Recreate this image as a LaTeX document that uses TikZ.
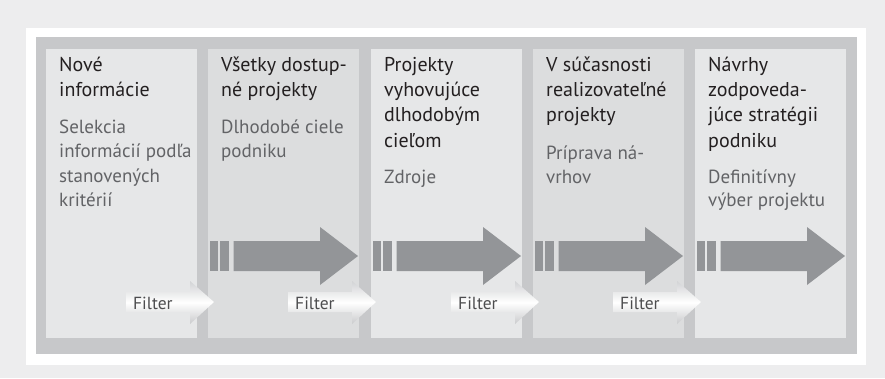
\documentclass[tikz,border=0pt]{standalone}
\usepackage{fontspec}
\setmainfont{PT Sans}
\definecolor{bgc}{HTML}{EDEDEE}
\definecolor{framec}{HTML}{C7C8CA}
\definecolor{pl}{HTML}{E6E7E8}
\definecolor{pd}{HTML}{DCDDDE}
\definecolor{arrowc}{HTML}{939598}
\definecolor{headc}{HTML}{231F20}
\definecolor{bodyc}{HTML}{626366}
\definecolor{filtc}{HTML}{4D4D4F}
\definecolor{fedge}{HTML}{D2D3D5}
\tikzset{
  panel/.style={draw=none, inner sep=0pt, minimum width=151pt, minimum height=289pt, anchor=north west},
  head/.style={anchor=base west, inner sep=0pt, text=headc, font=\fontsize{20}{25}\selectfont},
  body/.style={anchor=base west, inner sep=0pt, text=bodyc, font=\fontsize{19}{25}\selectfont},
  filt/.style={anchor=base west, inner sep=0pt, text=filtc, font=\fontsize{17.5}{20}\selectfont},
  bigarrow/.style={fill=arrowc, draw=none},
  filtarrow/.style={top color=fedge, bottom color=fedge!90!gray, middle color=white, draw=none}
}
\begin{document}
\begin{tikzpicture}[x=1pt,y=-1pt]
\useasboundingbox (0,0) rectangle (885,378);
\fill[bgc] (0,0) rectangle (885,378);
\fill[white] (26,28) rectangle (866,365);
\fill[framec] (36,37) rectangle (857,354);
% panels
\foreach \L/\c [count=\k] in {46/pl,208/pd,371/pl,533/pd,695/pl}
  \node[panel, fill=\c] (p\k) at (\L,49) {};
% big arrows
\foreach \L [count=\k from 2] in {208,371,533,695}{
  \fill[bigarrow] (\L+1.5,241) rectangle (\L+10,271);
  \fill[bigarrow] (\L+12,241) rectangle (\L+20.5,271);
  \fill[bigarrow] (\L+25.5,241) -- (\L+112,241) -- (\L+112,227) -- (\L+150,256)
     -- (\L+112,285) -- (\L+112,271) -- (\L+25.5,271) -- cycle;
}
% filter arrows
\foreach \R [count=\k] in {197,359,522,684}{
  \shade[filtarrow] (\R-71,292) -- (\R-7,292) -- (\R-7,281) -- (\R+17,302)
     -- (\R-7,324) -- (\R-7,312) -- (\R-71,312) -- cycle;
  \node[filt] (f\k) at (\R-64,309) {Filter};
}
% panel 1
\foreach \t [count=\i from 0] in {Nové,informácie}
  \node[head] (h1-\i) at (59,71+25*\i) {\t};
\foreach \t [count=\i from 0] in {Selekcia,informácií podľa,stanovených,kritérií}
  \node[body] (b1-\i) at (59,133+24.5*\i) {\t};
% panel 2
\foreach \t [count=\i from 0] in {Všetky dostup-,né projekty}
  \node[head] (h2-\i) at (221,71+25*\i) {\t};
\foreach \t [count=\i from 0] in {Dlhodobé ciele,podniku}
  \node[body] (b2-\i) at (221,133+24.5*\i) {\t};
% panel 3
\foreach \t [count=\i from 0] in {Projekty,vyhovujúce,dlhodobým,cieľom}
  \node[head] (h3-\i) at (384,71+25.4*\i) {\t};
\node[body] (b3-0) at (384,183) {Zdroje};
% panel 4
\foreach \t [count=\i from 0] in {V súčasnosti,realizovateľné,projekty}
  \node[head] (h4-\i) at (546,71+25.4*\i) {\t};
\foreach \t [count=\i from 0] in {Príprava ná-,vrhov}
  \node[body] (b4-\i) at (546,159+24.5*\i) {\t};
% panel 5
\foreach \t [count=\i from 0] in {Návrhy,zodpoveda-,júce stratégii,podniku}
  \node[head] (h5-\i) at (708,71+25.4*\i) {\t};
\foreach \t [count=\i from 0] in {Definitívny,výber projektu}
  \node[body] (b5-\i) at (708,183+23.5*\i) {\t};
\end{tikzpicture}
\end{document}
